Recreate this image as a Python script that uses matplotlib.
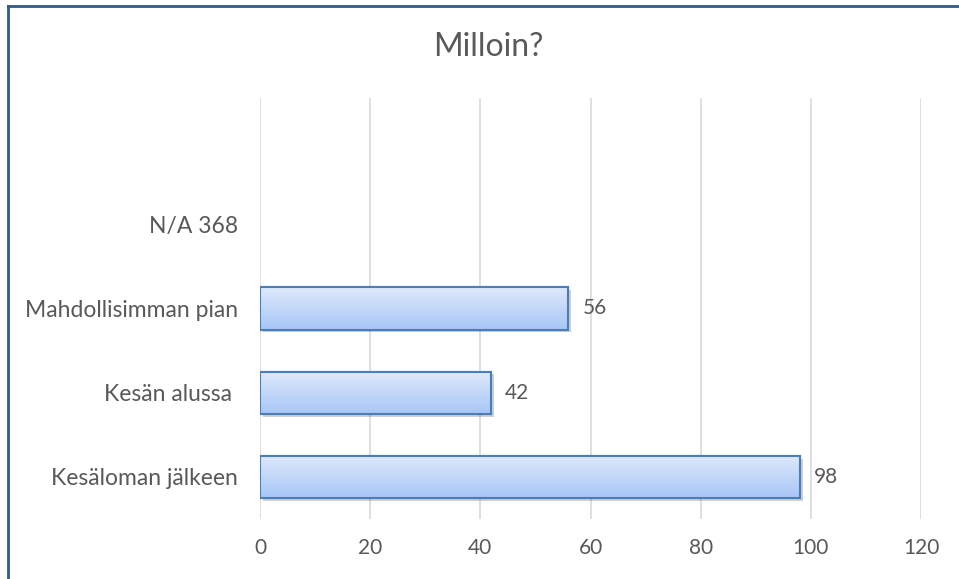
import numpy as np
import matplotlib
matplotlib.use("Agg")
import matplotlib.pyplot as plt
import matplotlib.patheffects as pe
from matplotlib.colors import LinearSegmentedColormap

plt.rcParams['font.family'] = ['Lato', 'DejaVu Sans']

title = "Milloin?"
categories = ["Kesäloman jälkeen", "Kesän alussa ", "Mahdollisimman pian", "N/A 368"]
values = [98, 42, 56, None]
xticks = [0, 20, 40, 60, 80, 100, 120]

W, H = 959, 579
fig = plt.figure(figsize=(W / 100, H / 100), dpi=100)
ax = fig.add_axes([260 / W, 1 - 519 / H, (921 - 260) / W, (519 - 98) / H])

gray = "#595959"
edge = "#4a7ebb"
cmap = LinearSegmentedColormap.from_list("g", ["#a7c6f7", "#dfe9fb"])
grad = np.linspace(0, 1, 256).reshape(-1, 1)

ypos = np.arange(len(categories))
idx = [i for i, v in enumerate(values) if v is not None]
vals = [values[i] for i in idx]

bars = ax.barh([ypos[i] for i in idx], vals, height=0.5, color="white",
               edgecolor=edge, linewidth=1.5, zorder=3,
               path_effects=[pe.SimplePatchShadow(offset=(2, -2), shadow_rgbFace="#000000", alpha=0.18), pe.Normal()])
for b in bars:
    x0, y0, w, h = b.get_x(), b.get_y(), b.get_width(), b.get_height()
    im = ax.imshow(grad, cmap=cmap, aspect="auto", extent=[x0, x0 + w, y0, y0 + h],
                   origin="lower", zorder=4)
    im.set_clip_path(b)
ax.barh([ypos[i] for i in idx], vals, height=0.5, fill=False,
        edgecolor=edge, linewidth=1.5, zorder=5)

for b, v in zip(bars, vals):
    ax.annotate(str(v), (b.get_x() + b.get_width(), b.get_y() + b.get_height() / 2),
                xytext=(10, 0), textcoords="offset points", ha="left", va="center",
                color=gray, fontsize=15)

ax.set_xlim(0, 120)
ax.set_ylim(-0.5, len(categories) + 0.5)
ax.set_xticks(xticks)
ax.set_xticklabels([str(t) for t in xticks], color=gray, fontsize=15)
ax.set_yticks(ypos)
ax.set_yticklabels(categories, color=gray, fontsize=16.5)
ax.tick_params(axis="both", length=0)
ax.tick_params(axis="x", pad=14)
ax.tick_params(axis="y", pad=16)
ax.grid(axis="x", color="#d9d9d9", linewidth=1.2, zorder=0)
ax.set_axisbelow(True)
for s in ax.spines.values():
    s.set_visible(False)

fig.text(488 / W, 1 - 47 / H, title, ha="center", va="center", color=gray, fontsize=23)

# chart border (top and left visible, clipped at right/bottom)
fig.add_artist(plt.Line2D([8 / W, 1.0], [1 - 6 / H, 1 - 6 / H], color="#2f5a8c", linewidth=2, transform=fig.transFigure))
fig.add_artist(plt.Line2D([8 / W, 8 / W], [0, 1 - 6 / H], color="#2f5a8c", linewidth=2, transform=fig.transFigure))

fig.savefig("out.png", dpi=100)
